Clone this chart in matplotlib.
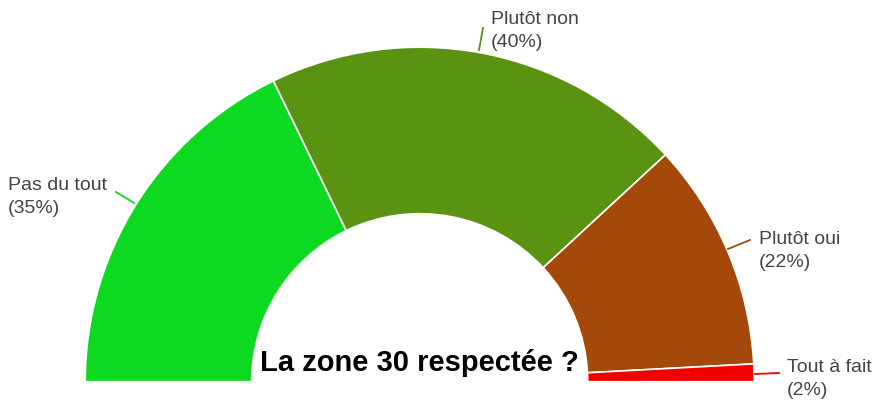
import matplotlib.pyplot as plt

# answers to "La zone 30 respectée ?"
categories = ['Pas du tout', 'Plutôt non', 'Plutôt oui', 'Tout à fait']
counts = [21, 24, 13, 1]
pct_labels = ['35%', '40%', '22%', '2%']
colors = ['#0dd920', '#5a9212', '#a5490b', '#f10000']

W, H = 872, 401
fig = plt.figure(figsize=(W / 100, H / 100), dpi=100)
ax = fig.add_axes([0, 0, 1, 1])

cx, cy = 419.7, H - 381.7
R, r = 334.5, 168

# half donut: the hidden last wedge fills the lower half
total = sum(counts)
ax.pie(counts + [total], colors=colors + ['none'], startangle=180, counterclock=False,
       radius=R, center=(cx, cy),
       wedgeprops=dict(width=R - r, edgecolor='white', linewidth=1.2))
ax.patches[-1].set_edgecolor('none')

ax.set_xlim(0, W)
ax.set_ylim(0, H)
ax.set_aspect('equal')
ax.axis('off')

def py(y):
    return H - y

# label positions (pixel coords from top-left) and leader lines
label_pos = [(8, 197), (491, 31), (759, 251), (787, 379)]
leaders = [((116, 192), (134, 203)),
           ((483, 28), (479, 50)),
           ((750, 240), (728, 249)),
           ((779, 373), (755, 374))]

for i, name in enumerate(categories):
    x, y = label_pos[i]
    ax.text(x, py(y), name + '\n(' + pct_labels[i] + ')', fontsize=14,
            family='Liberation Sans', color='#444444', ha='left', va='center',
            linespacing=1.4)
    (x0, y0), (x1, y1) = leaders[i]
    ax.plot([x0, x1], [py(y0), py(y1)], color=colors[i], lw=1.3)

ax.text(cx, py(363), 'La zone 30 respectée ?', fontsize=21, fontweight='bold',
        family='Liberation Sans', color='black', ha='center', va='center')

fig.savefig('out.png', dpi=100)
